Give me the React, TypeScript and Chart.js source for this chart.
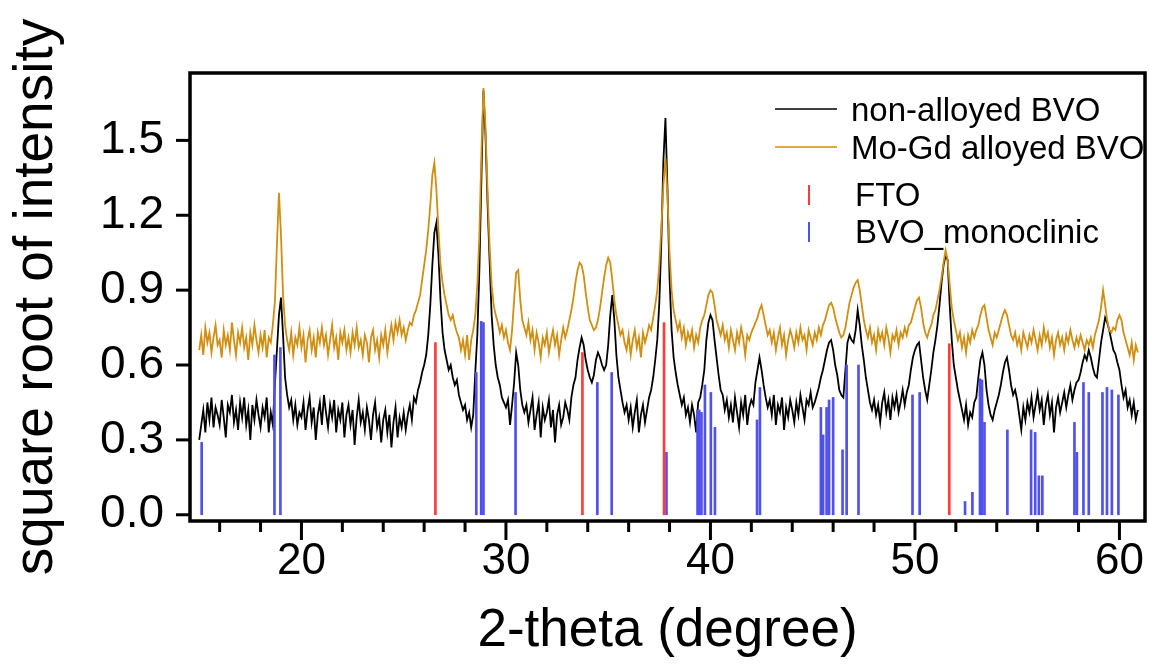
import React, { useEffect, useRef } from 'react';
import Chart from 'chart.js/auto';

// 2-theta sampling: 15.0 .. 60.9 in 0.1 degree steps (one row = one degree)
const X_START = 15.0;
const X_STEP = 0.1;

const nonAlloyedBVO = [
  0.30, 0.36, 0.42, 0.33, 0.45, 0.38, 0.47, 0.35, 0.43, 0.40, // 15
  0.36, 0.46, 0.39, 0.31, 0.44, 0.41, 0.48, 0.37, 0.42, 0.34, // 16
  0.45, 0.39, 0.47, 0.36, 0.42, 0.30, 0.44, 0.38, 0.46, 0.40, // 17
  0.35, 0.43, 0.39, 0.47, 0.33, 0.41, 0.36, 0.52, 0.66, 0.80, // 18
  0.87, 0.72, 0.55, 0.48, 0.43, 0.46, 0.38, 0.44, 0.36, 0.41, // 19
  0.39, 0.45, 0.34, 0.42, 0.47, 0.37, 0.43, 0.30, 0.40, 0.45, // 20
  0.36, 0.48, 0.41, 0.35, 0.44, 0.39, 0.46, 0.33, 0.42, 0.38, // 21
  0.45, 0.31, 0.40, 0.44, 0.36, 0.42, 0.28, 0.39, 0.46, 0.37, // 22
  0.41, 0.34, 0.43, 0.38, 0.30, 0.40, 0.45, 0.35, 0.39, 0.29, // 23
  0.38, 0.42, 0.33, 0.40, 0.27, 0.37, 0.43, 0.31, 0.39, 0.35, // 24
  0.41, 0.34, 0.40, 0.44, 0.38, 0.47, 0.45, 0.50, 0.53, 0.57, // 25
  0.60, 0.64, 0.72, 0.84, 1.00, 1.13, 1.17, 1.04, 0.86, 0.73, // 26
  0.66, 0.62, 0.58, 0.60, 0.55, 0.52, 0.54, 0.48, 0.45, 0.42, // 27
  0.44, 0.38, 0.41, 0.35, 0.40, 0.57, 0.72, 0.98, 1.35, 1.70, // 28
  1.52, 1.25, 1.02, 0.80, 0.68, 0.60, 0.55, 0.52, 0.47, 0.45, // 29
  0.43, 0.46, 0.36, 0.44, 0.53, 0.65, 0.60, 0.50, 0.44, 0.41, // 30
  0.44, 0.37, 0.42, 0.47, 0.34, 0.40, 0.45, 0.31, 0.43, 0.38, // 31
  0.41, 0.46, 0.35, 0.42, 0.29, 0.40, 0.44, 0.36, 0.39, 0.45, // 32
  0.42, 0.38, 0.47, 0.52, 0.55, 0.62, 0.67, 0.71, 0.68, 0.62, // 33
  0.58, 0.55, 0.53, 0.56, 0.62, 0.65, 0.63, 0.60, 0.58, 0.60, // 34
  0.68, 0.80, 0.88, 0.78, 0.64, 0.55, 0.50, 0.45, 0.41, 0.44, // 35
  0.38, 0.43, 0.35, 0.41, 0.46, 0.33, 0.40, 0.44, 0.37, 0.42, // 36
  0.47, 0.50, 0.55, 0.62, 0.70, 0.85, 1.10, 1.42, 1.59, 1.30, // 37
  0.95, 0.74, 0.63, 0.57, 0.52, 0.48, 0.44, 0.47, 0.40, 0.43, // 38
  0.37, 0.44, 0.40, 0.33, 0.45, 0.47, 0.52, 0.58, 0.70, 0.77, // 39
  0.80, 0.78, 0.70, 0.63, 0.56, 0.50, 0.48, 0.42, 0.46, 0.39, // 40
  0.44, 0.37, 0.47, 0.41, 0.35, 0.45, 0.40, 0.48, 0.36, 0.43, // 41
  0.46, 0.44, 0.53, 0.58, 0.63, 0.58, 0.52, 0.47, 0.43, 0.46, // 42
  0.40, 0.48, 0.36, 0.44, 0.41, 0.47, 0.34, 0.43, 0.39, 0.46, // 43
  0.42, 0.37, 0.45, 0.40, 0.48, 0.43, 0.38, 0.46, 0.44, 0.49, // 44
  0.43, 0.45, 0.48, 0.51, 0.55, 0.58, 0.62, 0.66, 0.69, 0.70, // 45
  0.66, 0.60, 0.56, 0.50, 0.48, 0.47, 0.58, 0.69, 0.72, 0.70, // 46
  0.69, 0.74, 0.82, 0.76, 0.68, 0.62, 0.55, 0.50, 0.45, 0.42, // 47
  0.46, 0.40, 0.44, 0.37, 0.45, 0.49, 0.41, 0.46, 0.38, 0.47, // 48
  0.43, 0.48, 0.41, 0.45, 0.50, 0.44, 0.49, 0.52, 0.58, 0.63, // 49
  0.66, 0.68, 0.69, 0.62, 0.55, 0.50, 0.46, 0.52, 0.58, 0.65, // 50
  0.70, 0.76, 0.84, 0.93, 1.00, 1.04, 1.02, 0.84, 0.70, 0.60, // 51
  0.55, 0.50, 0.46, 0.42, 0.38, 0.44, 0.36, 0.41, 0.39, 0.45, // 52
  0.47, 0.55, 0.62, 0.65, 0.60, 0.50, 0.44, 0.40, 0.38, 0.42, // 53
  0.45, 0.48, 0.52, 0.57, 0.61, 0.63, 0.58, 0.52, 0.48, 0.50, // 54
  0.46, 0.40, 0.34, 0.43, 0.38, 0.45, 0.41, 0.47, 0.39, 0.44, // 55
  0.49, 0.42, 0.46, 0.36, 0.44, 0.48, 0.40, 0.45, 0.33, 0.43, // 56
  0.47, 0.41, 0.45, 0.49, 0.43, 0.48, 0.52, 0.46, 0.50, 0.53, // 57
  0.54, 0.57, 0.61, 0.64, 0.62, 0.66, 0.63, 0.59, 0.56, 0.55, // 58
  0.62, 0.69, 0.74, 0.79, 0.77, 0.74, 0.70, 0.66, 0.645, 0.61, // 59
  0.58, 0.52, 0.47, 0.50, 0.43, 0.46, 0.40, 0.45, 0.38, 0.42, // 60
];

const moGdAlloyedBVO = [
  0.66, 0.72, 0.64, 0.75, 0.69, 0.73, 0.65, 0.71, 0.76, 0.68, // 15
  0.70, 0.63, 0.74, 0.68, 0.72, 0.66, 0.77, 0.70, 0.64, 0.73, // 16
  0.69, 0.75, 0.67, 0.71, 0.62, 0.73, 0.68, 0.76, 0.70, 0.65, // 17
  0.72, 0.67, 0.74, 0.63, 0.71, 0.69, 0.76, 0.85, 1.08, 1.29, // 18
  1.12, 0.88, 0.76, 0.70, 0.66, 0.73, 0.64, 0.71, 0.68, 0.75, // 19
  0.67, 0.72, 0.61, 0.70, 0.74, 0.66, 0.71, 0.63, 0.73, 0.69, // 20
  0.75, 0.68, 0.72, 0.64, 0.70, 0.76, 0.67, 0.71, 0.62, 0.73, // 21
  0.69, 0.74, 0.66, 0.71, 0.65, 0.73, 0.68, 0.75, 0.67, 0.70, // 22
  0.64, 0.72, 0.69, 0.61, 0.71, 0.74, 0.66, 0.70, 0.63, 0.72, // 23
  0.68, 0.74, 0.65, 0.71, 0.76, 0.70, 0.77, 0.73, 0.78, 0.72, // 24
  0.75, 0.70, 0.74, 0.77, 0.76, 0.80, 0.82, 0.85, 0.88, 0.94, // 25
  1.00, 1.06, 1.14, 1.24, 1.36, 1.41, 1.30, 1.14, 1.00, 0.93, // 26
  0.88, 0.84, 0.80, 0.78, 0.80, 0.76, 0.73, 0.71, 0.66, 0.70, // 27
  0.64, 0.72, 0.62, 0.70, 0.74, 0.80, 0.92, 1.12, 1.45, 1.71, // 28
  1.55, 1.30, 1.08, 0.92, 0.84, 0.80, 0.77, 0.73, 0.76, 0.71, // 29
  0.74, 0.69, 0.66, 0.74, 0.86, 0.97, 0.98, 0.86, 0.78, 0.75, // 30
  0.72, 0.77, 0.70, 0.74, 0.66, 0.73, 0.69, 0.63, 0.71, 0.68, // 31
  0.73, 0.65, 0.70, 0.74, 0.68, 0.72, 0.64, 0.70, 0.75, 0.71, // 32
  0.74, 0.78, 0.82, 0.87, 0.93, 0.98, 1.01, 1.00, 0.96, 0.89, // 33
  0.83, 0.78, 0.76, 0.74, 0.75, 0.78, 0.83, 0.89, 0.95, 1.00, // 34
  1.03, 1.01, 0.94, 0.86, 0.80, 0.76, 0.72, 0.74, 0.69, 0.66, // 35
  0.72, 0.64, 0.70, 0.74, 0.67, 0.71, 0.63, 0.73, 0.69, 0.72, // 36
  0.76, 0.74, 0.79, 0.84, 0.90, 1.00, 1.15, 1.32, 1.43, 1.28, // 37
  1.05, 0.90, 0.82, 0.78, 0.74, 0.77, 0.71, 0.75, 0.68, 0.73, // 38
  0.70, 0.74, 0.67, 0.72, 0.69, 0.75, 0.78, 0.80, 0.84, 0.88, // 39
  0.90, 0.89, 0.84, 0.78, 0.75, 0.72, 0.76, 0.70, 0.73, 0.67, // 40
  0.74, 0.70, 0.66, 0.73, 0.69, 0.75, 0.71, 0.64, 0.72, 0.70, // 41
  0.73, 0.75, 0.77, 0.79, 0.82, 0.84, 0.80, 0.76, 0.72, 0.74, // 42
  0.69, 0.73, 0.66, 0.71, 0.75, 0.68, 0.72, 0.64, 0.70, 0.74, // 43
  0.71, 0.67, 0.73, 0.69, 0.75, 0.70, 0.72, 0.66, 0.74, 0.71, // 44
  0.68, 0.73, 0.70, 0.75, 0.72, 0.76, 0.78, 0.81, 0.84, 0.85, // 45
  0.83, 0.79, 0.76, 0.73, 0.71, 0.72, 0.75, 0.80, 0.85, 0.88, // 46
  0.91, 0.93, 0.94, 0.90, 0.84, 0.78, 0.74, 0.71, 0.75, 0.69, // 47
  0.72, 0.66, 0.74, 0.70, 0.73, 0.68, 0.75, 0.71, 0.65, 0.72, // 48
  0.70, 0.74, 0.68, 0.73, 0.71, 0.75, 0.72, 0.76, 0.77, 0.80, // 49
  0.83, 0.86, 0.87, 0.83, 0.77, 0.73, 0.71, 0.74, 0.76, 0.80, // 50
  0.82, 0.86, 0.90, 0.95, 1.01, 1.06, 1.02, 0.92, 0.83, 0.78, // 51
  0.74, 0.70, 0.73, 0.67, 0.71, 0.65, 0.72, 0.69, 0.74, 0.71, // 52
  0.74, 0.76, 0.80, 0.83, 0.84, 0.79, 0.74, 0.71, 0.68, 0.73, // 53
  0.71, 0.74, 0.77, 0.80, 0.82, 0.80, 0.76, 0.72, 0.70, 0.73, // 54
  0.68, 0.71, 0.66, 0.73, 0.70, 0.67, 0.72, 0.69, 0.74, 0.70, // 55
  0.66, 0.72, 0.68, 0.75, 0.70, 0.73, 0.67, 0.71, 0.64, 0.70, // 56
  0.73, 0.68, 0.71, 0.66, 0.72, 0.69, 0.74, 0.70, 0.67, 0.71, // 57
  0.68, 0.72, 0.69, 0.66, 0.70, 0.68, 0.71, 0.67, 0.72, 0.75, // 58
  0.78, 0.83, 0.90, 0.84, 0.78, 0.74, 0.73, 0.75, 0.74, 0.78, // 59
  0.80, 0.78, 0.73, 0.70, 0.67, 0.64, 0.69, 0.62, 0.68, 0.65, // 60
];

// reference patterns (stick positions in degrees, heights in sqrt-intensity units)
const ftoPositions = [26.55, 33.74, 37.73, 51.68];
const ftoHeights = [0.69, 0.65, 0.77, 0.685];

const bvoPositions = [
  15.12, 18.68, 18.97, 28.55, 28.79, 28.9, 30.47, 34.47, 35.17, 37.85,
  39.37, 39.45, 39.56, 39.73, 40.02, 40.22, 42.28, 42.42, 45.4, 45.51,
  45.68, 45.8, 46.0, 46.46, 46.66, 47.24, 49.88, 50.23, 52.45, 52.81,
  53.18, 53.28, 53.4, 54.52, 55.68, 55.88, 56.06, 56.23, 57.8, 57.92,
  58.24, 58.5, 59.17, 59.39, 59.63, 59.95,
];
const bvoHeights = [
  0.29, 0.64, 0.67, 0.57, 0.775, 0.77, 0.49, 0.53, 0.57, 0.25,
  0.42, 0.42, 0.41, 0.52, 0.49, 0.35, 0.38, 0.51, 0.43, 0.32,
  0.43, 0.46, 0.47, 0.26, 0.6, 0.6, 0.48, 0.49, 0.053, 0.09,
  0.545, 0.54, 0.37, 0.34, 0.34, 0.33, 0.156, 0.156, 0.37, 0.25,
  0.53, 0.49, 0.49, 0.51, 0.5, 0.48,
];

const xLabelTicks = [20, 30, 40, 50, 60];
const xMinorTicks = [16, 18, 22, 24, 26, 28, 32, 34, 36, 38, 42, 44, 46, 48, 52, 54, 56, 58];
const yTicks = [0, 0.3, 0.6, 0.9, 1.2, 1.5];

const X_MIN = 14.55;
const X_MAX = 61.25;
const Y_MIN = -0.025;
const Y_MAX = 1.77;

const FONT = "'Liberation Sans', Arial, Helvetica, sans-serif";
const BLACK = '#000000';
const ORANGE = '#D08E12';
const RED = '#FF3B3B';
const BLUE = '#5050EC';

const toPoints = (vals: number[]) =>
  vals.map((v, i) => ({ x: Math.round((X_START + i * X_STEP) * 10) / 10, y: v }));
const toSticks = (pos: number[], h: number[]) => pos.map((p, i) => ({ x: p, y: h[i] }));

const framePlugin = {
  id: 'frameTicksLegend',
  afterDatasetsDraw(chart: any) {
    const { ctx, chartArea: a, scales } = chart;
    const xs = scales.x;
    const ys = scales.y;
    ctx.save();
    ctx.strokeStyle = '#000';
    ctx.lineCap = 'butt';
    ctx.lineWidth = 3;
    const seg = (x1: number, y1: number, x2: number, y2: number) => {
      ctx.beginPath();
      ctx.moveTo(x1, y1);
      ctx.lineTo(x2, y2);
      ctx.stroke();
    };
    yTicks.forEach((v) => {
      const p = ys.getPixelForValue(v);
      seg(a.left - 14, p, a.left, p);
    });
    xMinorTicks.forEach((v) => {
      const p = xs.getPixelForValue(v);
      seg(p, a.bottom, p, a.bottom + 11);
    });
    xLabelTicks.forEach((v) => {
      const p = xs.getPixelForValue(v);
      seg(p, a.bottom, p, a.bottom + 19);
    });
    ctx.lineWidth = 3.5;
    ctx.strokeRect(a.left, a.top, a.right - a.left, a.bottom - a.top);

    // legend
    const ds = chart.data.datasets;
    ctx.font = `33px ${FONT}`;
    ctx.fillStyle = '#000';
    ctx.textAlign = 'left';
    ctx.textBaseline = 'alphabetic';
    ctx.lineWidth = 1.5;
    ctx.strokeStyle = ds[0].borderColor;
    seg(775, 109, 837, 109);
    ctx.fillText(ds[0].label, 851, 121);
    ctx.strokeStyle = ds[1].borderColor;
    seg(775, 147, 837, 147);
    ctx.fillText(ds[1].label, 851, 159);
    ctx.lineWidth = 2;
    ctx.strokeStyle = ds[2].backgroundColor;
    seg(809, 185, 809, 205);
    ctx.fillText(ds[2].label, 855, 206);
    ctx.strokeStyle = ds[3].backgroundColor;
    seg(809, 222, 809, 242);
    ctx.fillText(ds[3].label, 855, 243);
    ctx.restore();
  },
};

const zeroPadding = (s: any) => {
  s.paddingLeft = 0;
  s.paddingRight = 0;
  s.paddingTop = 0;
  s.paddingBottom = 0;
};

export default function App() {
  const canvasRef = useRef<HTMLCanvasElement | null>(null);

  useEffect(() => {
    const canvas = canvasRef.current;
    if (!canvas) return;
    const chart = new Chart(canvas, {
      type: 'line',
      data: {
        datasets: [
          {
            label: 'non-alloyed BVO',
            data: toPoints(nonAlloyedBVO),
            borderColor: BLACK,
            borderWidth: 1.8,
            pointRadius: 0,
            tension: 0,
            order: 3,
          },
          {
            label: 'Mo-Gd alloyed BVO',
            data: toPoints(moGdAlloyedBVO),
            borderColor: ORANGE,
            borderWidth: 1.8,
            pointRadius: 0,
            tension: 0,
            order: 2,
          },
          {
            type: 'bar',
            label: 'FTO',
            data: toSticks(ftoPositions, ftoHeights),
            backgroundColor: RED,
            borderWidth: 0,
            barThickness: 2,
            grouped: false,
            order: 0,
          } as any,
          {
            type: 'bar',
            label: 'BVO_monoclinic',
            data: toSticks(bvoPositions, bvoHeights),
            backgroundColor: BLUE,
            borderWidth: 0,
            barThickness: 2,
            grouped: false,
            order: 1,
          } as any,
        ],
      },
      options: {
        responsive: false,
        animation: false,
        devicePixelRatio: 1,
        layout: { padding: { top: 73, right: 4, left: 0, bottom: 0 } },
        plugins: {
          legend: { display: false },
          tooltip: { enabled: false },
        },
        scales: {
          x: {
            type: 'linear',
            min: X_MIN,
            max: X_MAX,
            offset: false,
            grid: { display: false, drawTicks: false },
            border: { display: false },
            afterBuildTicks: (s: any) => {
              s.ticks = xLabelTicks.map((v) => ({ value: v }));
            },
            afterFit: (s: any) => {
              s.height = 144;
              zeroPadding(s);
            },
            ticks: {
              autoSkip: false,
              maxRotation: 0,
              padding: 14,
              color: '#000',
              font: { size: 44, family: FONT },
              callback: (v: any) => String(v),
            },
            title: {
              display: true,
              text: '2-theta (degree)',
              color: '#000',
              font: { size: 53, family: FONT },
              padding: { top: 0, bottom: 2 },
            },
          },
          y: {
            type: 'linear',
            min: Y_MIN,
            max: Y_MAX,
            grid: { display: false, drawTicks: false },
            border: { display: false },
            afterBuildTicks: (s: any) => {
              s.ticks = yTicks.map((v) => ({ value: v }));
            },
            afterFit: (s: any) => {
              s.width = 190;
              zeroPadding(s);
            },
            ticks: {
              padding: 26,
              color: '#000',
              font: { size: 46, family: FONT },
              callback: (v: any) => Number(v).toFixed(1),
            },
            title: {
              display: true,
              text: 'square root of intensity',
              color: '#000',
              font: { size: 55, family: FONT },
              padding: { top: 4, bottom: 0 },
            },
          },
        },
      },
      plugins: [framePlugin],
    });
    return () => chart.destroy();
  }, []);

  return (
    <div style={{ position: 'absolute', left: 0, top: 0, width: 1149, height: 665, background: '#fff' }}>
      <canvas ref={canvasRef} width={1149} height={665} style={{ display: 'block' }} />
    </div>
  );
}
